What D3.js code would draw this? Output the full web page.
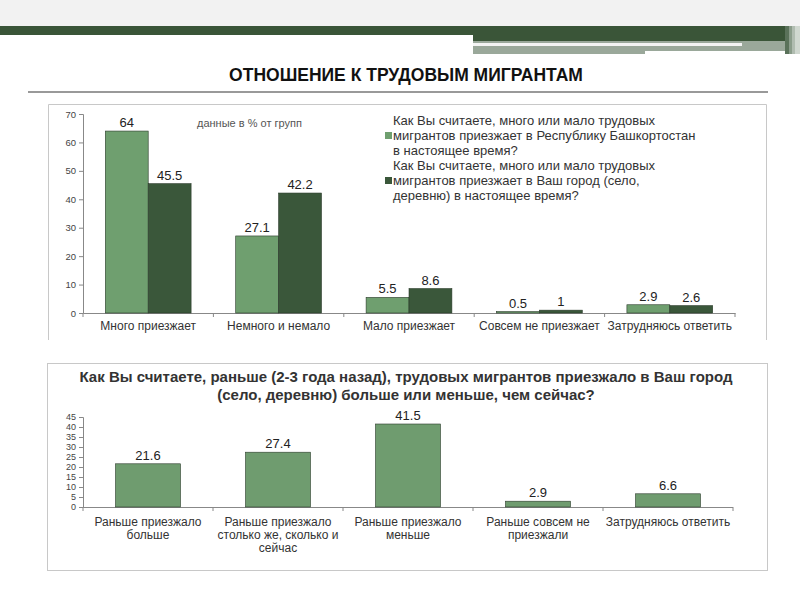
<!DOCTYPE html>
<html><head><meta charset="utf-8">
<script src="https://cdn.jsdelivr.net/npm/d3@7"></script>
<style>body{margin:0;background:#fff}svg{display:block}</style>
</head><body><svg id="c" width="800" height="600"></svg>
<script>
const pageTitle = "ОТНОШЕНИЕ К ТРУДОВЫМ МИГРАНТАМ";
const topCategories = ["Много приезжает","Немного и немало","Мало приезжает","Совсем не приезжает","Затрудняюсь ответить"];
const seriesRepublic = [64, 27.1, 5.5, 0.5, 2.9];
const seriesCity = [45.5, 42.2, 8.6, 1, 2.6];
const topTicks = [0,10,20,30,40,50,60,70];
const legendRepublic = ["Как Вы считаете, много или мало трудовых","мигрантов приезжает в Республику Башкортостан","в настоящее время?"];
const legendCity = ["Как Вы считаете, много или мало трудовых","мигрантов приезжает в Ваш город  (село,","деревню) в настоящее время?"];
const topNote = "данные в % от групп";
const bottomTitle = ["Как Вы считаете, раньше (2-3 года назад), трудовых мигрантов приезжало в Ваш город","(село, деревню) больше или меньше, чем сейчас?"];
const bottomCategories = [["Раньше приезжало","больше"],["Раньше приезжало","столько же, сколько и","сейчас"],["Раньше приезжало","меньше"],["Раньше совсем не","приезжали"],["Затрудняюсь ответить"]];
const bottomValues = [21.6, 27.4, 41.5, 2.9, 6.6];
const bottomTicks = [0,5,10,15,20,25,30,35,40,45];

const LIGHT = "#6f9f6f", DARK = "#3a573a", FONT = "'Liberation Sans', Arial, sans-serif";
const svg = d3.select("#c");

// header decoration
svg.append("rect").attr("x",0).attr("y",0).attr("width",800).attr("height",26).attr("fill","#f2f2f2");
svg.append("rect").attr("x",0).attr("y",26).attr("width",785).attr("height",9).attr("fill","#3a5538");
svg.append("rect").attr("x",473).attr("y",26).attr("width",312).attr("height",15).attr("fill","#3a5538");
svg.append("rect").attr("x",473).attr("y",41).attr("width",312).attr("height",13).attr("fill","#9aa89a");
svg.append("rect").attr("x",473).attr("y",43).attr("width",269).attr("height",3).attr("fill","#f4f4f4");
svg.append("rect").attr("x",645).attr("y",51).attr("width",140).attr("height",3).attr("fill","#ffffff");
[["#5a725a",785,4],["#8a9c8a",789,3],["#b0bcb0",792,3],["#d0d8d0",795,5]].forEach(s=>{
  svg.append("rect").attr("x",s[1]).attr("y",26).attr("width",s[2]).attr("height",28).attr("fill",s[0]);
});

svg.append("text").attr("x",406).attr("y",81).attr("text-anchor","middle")
  .attr("font-family",FONT).attr("font-size",17.5).attr("font-weight","bold").attr("fill","#111").text(pageTitle);
svg.append("line").attr("x1",28).attr("x2",768).attr("y1",92).attr("y2",92).attr("stroke","#777").attr("stroke-width",1.5);

// ===== top chart =====
svg.append("path").attr("d","M48.5,340V104.5H766.5V340").attr("fill","none").attr("stroke","#c8c8c8");
const x0 = d3.scaleBand().domain(topCategories).range([83,735]);
const x1 = d3.scaleBand().domain(["r","c"]).range([0,x0.bandwidth()]).paddingOuter(0.52);
const yT = d3.scaleLinear().domain([0,70]).range([313,114]);

const gy = svg.append("g").attr("transform","translate(83,0)")
  .call(d3.axisLeft(yT).tickValues(topTicks).tickSize(4).tickPadding(3));
gy.select(".domain").attr("stroke","#888").attr("d","M-4,313.5H0.5V114.5H-4");
gy.selectAll(".tick line").attr("stroke","#888");
gy.selectAll("text").attr("font-family",FONT).attr("font-size",9.5).attr("fill","#444");

const gx = svg.append("g").attr("transform","translate(0,313)")
  .call(d3.axisBottom(x0).tickSize(0).tickPadding(8));
gx.select(".domain").attr("stroke","#888");
gx.selectAll("text").attr("font-family",FONT).attr("font-size",12).attr("fill","#333");
svg.append("g").selectAll("line").data(topCategories.concat([null])).join("line")
  .attr("x1",(d,i)=>83+i*x0.step()).attr("x2",(d,i)=>83+i*x0.step())
  .attr("y1",313).attr("y2",317).attr("stroke","#888");

const groups = svg.append("g").selectAll("g").data(topCategories).join("g")
  .attr("transform",d=>`translate(${x0(d)},0)`);
groups.each(function(d,i){
  const g = d3.select(this);
  [["r",seriesRepublic[i],LIGHT],["c",seriesCity[i],DARK]].forEach(s=>{
    g.append("rect").attr("x",x1(s[0])).attr("width",x1.bandwidth())
      .attr("y",yT(s[1])).attr("height",313-yT(s[1])).attr("fill",s[2]).attr("stroke","#2b3b2b").attr("stroke-width",0.6);
    g.append("text").attr("x",x1(s[0])+x1.bandwidth()/2).attr("y",yT(s[1])-4).attr("text-anchor","middle")
      .attr("font-family",FONT).attr("font-size",13).attr("fill","#222").text(s[1]);
  });
});

svg.append("text").attr("x",197).attr("y",127).attr("font-family",FONT).attr("font-size",11).attr("fill","#555").text(topNote);

function legendBlock(lines,y0,color){
  svg.append("rect").attr("x",385).attr("y",y0+15-8).attr("width",7).attr("height",7).attr("fill",color);
  lines.forEach((t,k)=>svg.append("text").attr("x",393).attr("y",y0+k*15).attr("font-family",FONT)
    .attr("font-size",13).attr("fill","#333").text(t));
}
legendBlock(legendRepublic,125,LIGHT);
legendBlock(legendCity,170,DARK);

// ===== bottom chart =====
svg.append("rect").attr("x",47.5).attr("y",363.5).attr("width",720).attr("height",207).attr("fill","none").attr("stroke","#c8c8c8");
bottomTitle.forEach((t,k)=>svg.append("text").attr("x",406).attr("y",382+k*18).attr("text-anchor","middle")
  .attr("font-family",FONT).attr("font-weight","bold").attr("font-size",15).attr("fill","#333").text(t));

const xb = d3.scaleBand().domain(d3.range(bottomValues.length)).range([83,733]).paddingInner(0.5).paddingOuter(0.25);
const yB = d3.scaleLinear().domain([0,45]).range([507,417]);
const gyb = svg.append("g").attr("transform","translate(83,0)")
  .call(d3.axisLeft(yB).tickValues(bottomTicks).tickSize(4).tickPadding(3));
gyb.select(".domain").attr("stroke","#888").attr("d","M-4,507.5H0.5V417.5H-4");
gyb.selectAll(".tick line").attr("stroke","#888");
gyb.selectAll("text").attr("font-family",FONT).attr("font-size",9).attr("fill","#444");

svg.append("line").attr("x1",83).attr("x2",733).attr("y1",507.5).attr("y2",507.5).attr("stroke","#888");
const stepB = (733-83)/bottomValues.length;
svg.append("g").selectAll("line").data(d3.range(bottomValues.length+1)).join("line")
  .attr("x1",d=>83+d*stepB).attr("x2",d=>83+d*stepB).attr("y1",507).attr("y2",511).attr("stroke","#888");

svg.append("g").selectAll("rect").data(bottomValues).join("rect")
  .attr("x",(d,i)=>xb(i)).attr("width",xb.bandwidth()).attr("y",d=>yB(d)).attr("height",d=>507-yB(d))
  .attr("fill","#6f9c6f").attr("stroke","#2b3b2b").attr("stroke-width",0.6);
svg.append("g").selectAll("text").data(bottomValues).join("text")
  .attr("x",(d,i)=>xb(i)+xb.bandwidth()/2).attr("y",d=>yB(d)-4).attr("text-anchor","middle")
  .attr("font-family",FONT).attr("font-size",13).attr("fill","#222").text(d=>d);

bottomCategories.forEach((lines,i)=>{
  lines.forEach((t,k)=>svg.append("text").attr("x",83+(i+0.5)*stepB).attr("y",526+k*13).attr("text-anchor","middle")
    .attr("font-family",FONT).attr("font-size",12).attr("fill","#333").text(t));
});
</script></body></html>
